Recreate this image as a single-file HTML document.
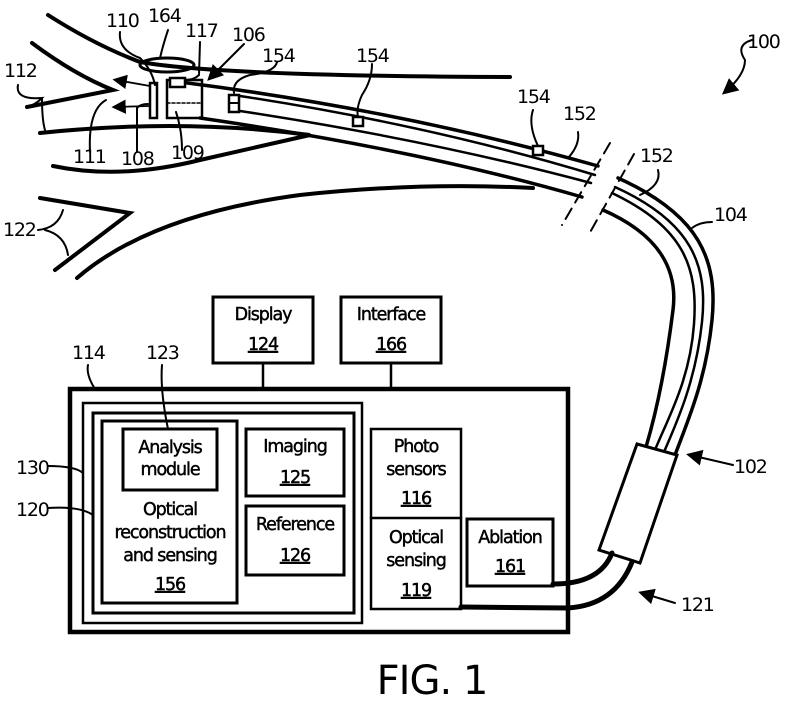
<!DOCTYPE html>
<html><head><meta charset="utf-8"><style>
html,body{margin:0;padding:0;background:#fff;}
svg{display:block;}
text{font-family:"DejaVu Sans","Liberation Sans",sans-serif;fill:#000;}
.l{font-size:19px;letter-spacing:-1.2px;}
.b{font-size:17.5px;letter-spacing:-1.1px;text-anchor:middle;stroke:#000;stroke-width:0.45px;}
.u{text-decoration:underline;}
</style></head><body>
<svg width="787" height="707" viewBox="0 0 787 707" xmlns="http://www.w3.org/2000/svg">
<defs><marker id="ah" markerWidth="8" markerHeight="8" refX="6" refY="4" orient="auto"><path d="M0,0 L8,4 L0,8 z" fill="#000"/></marker></defs>
<g fill="none" stroke="#000" stroke-linecap="round">
<path d="M48,15 Q95,45 140,62 Q220,76 510,77" stroke-width="4"/>
<path d="M32,43 Q75,75 113,90 L27,107" stroke-width="4"/>
<path d="M40,133 Q180,118 310,135 L200,160 Q120,180 53,166" stroke-width="4"/>
<path d="M77,278 Q150,215 300,195 Q420,182 533,188" stroke-width="4"/>
<path d="M40,198 L130,213 L55,270" stroke-width="4"/>
<path d="M180,82 Q400,110 598,166" stroke-width="3.5"/>
<path d="M240,96 Q430,125 595,175" stroke-width="2.5"/>
<path d="M240,111 Q430,140 591,183" stroke-width="2.5"/>
<path d="M200,118 Q420,150 582,197" stroke-width="3.5"/>
<path d="M610,143 L562,225" stroke-width="2" stroke-dasharray="12,7"/>
<path d="M634,154 L588,236" stroke-width="2" stroke-dasharray="12,7"/>
<path d="M618,178 C700,215 718,260 712,320 S688,420 675,455" stroke-width="3.5"/>
<path d="M615,187 C692,222 708,265 702,322 S678,420 664,452" stroke-width="2.5"/>
<path d="M612,193 C685,228 698,268 694,324 S668,418 655,450" stroke-width="2.5"/>
<path d="M603,210 C660,235 678,270 673,310 S660,400 646,447" stroke-width="3.5"/>
<path d="M637,444 L677,455 L640,563 L599,550 Z" stroke-width="3" fill="#fff" stroke-linejoin="miter"/>
<path d="M553,584 Q600,584 612,553" stroke-width="5"/>
<path d="M461,607 L568,608 Q615,605 632,562" stroke-width="5"/>
<ellipse cx="167" cy="65" rx="27" ry="7" stroke-width="3"/>
<rect x="150" y="83" width="7" height="35" stroke-width="2.5"/>
<rect x="167" y="80" width="35" height="38" stroke-width="2.5"/>
<rect x="170" y="78" width="15" height="9" stroke-width="2.5" fill="#fff"/>
<path d="M167,103 L202,103" stroke-width="1.5" stroke-dasharray="3,2"/>
<path d="M150,86 L116,80" stroke-width="1.8" marker-end="url(#ah)"/>
<path d="M150,106 L115,107" stroke-width="1.8" marker-end="url(#ah)"/>
<rect x="229" y="95" width="10" height="17" stroke-width="2.5"/>
<path d="M229,103 L239,103" stroke-width="2"/>
<rect x="353" y="117" width="10" height="9" stroke-width="2.5" fill="#fff"/>
<rect x="533" y="146" width="10" height="9" stroke-width="2.5" fill="#fff"/>
<path d="M168,30 Q163,45 160,58" stroke-width="2"/>
<path d="M120,32 Q118,50 140,58 Q152,70 155,85" stroke-width="2"/>
<path d="M200,42 L199,75 Q194,80 185,80" stroke-width="2"/>
<path d="M244,44 L210,78" stroke-width="2" marker-end="url(#ah)"/>
<path d="M277,62 Q275,72 250,75 Q232,80 234,93" stroke-width="2"/>
<path d="M372,64 Q372,80 362,95 Q356,108 358,117" stroke-width="2"/>
<path d="M533,110 Q528,125 538,146" stroke-width="2"/>
<path d="M578,132 Q580,145 568,158" stroke-width="2"/>
<path d="M658,170 Q662,185 640,195" stroke-width="2"/>
<path d="M712,222 Q700,222 692,228" stroke-width="2"/>
<path d="M752,40 Q735,45 745,60 Q745,75 725,92" stroke-width="2" marker-end="url(#ah)"/>
<path d="M18,85 Q15,100 42,98 Q35,105 27,107 M42,98 Q42,120 45,130" stroke-width="2"/>
<path d="M90,152 Q88,110 106,100" stroke-width="2"/>
<path d="M137,152 L137,108 Q140,104 148,104" stroke-width="2"/>
<path d="M182,150 Q182,130 176,112" stroke-width="2"/>
<path d="M38,230 Q58,228 63,210 M45,230 Q65,235 68,255" stroke-width="2"/>
<path d="M733,465 L690,455" stroke-width="2" marker-end="url(#ah)"/>
<path d="M675,603 L642,593" stroke-width="2" marker-end="url(#ah)"/>
<path d="M88,365 Q86,375 95,389" stroke-width="2"/>
<path d="M162,365 Q160,390 168,429" stroke-width="2"/>
<path d="M48,466 Q75,466 83,473" stroke-width="2"/>
<path d="M48,508 Q80,506 93,515" stroke-width="2"/>
<rect x="213" y="297" width="100" height="66" stroke-width="3"/>
<rect x="341" y="297" width="100" height="66" stroke-width="3"/>
<path d="M263,363 L263,389 M391,363 L391,389" stroke-width="2.5"/>
<rect x="70" y="389" width="498" height="243" stroke-width="4.5"/>
<rect x="83" y="403" width="279" height="220" stroke-width="2.5"/>
<rect x="93" y="413" width="261" height="200" stroke-width="3"/>
<rect x="102" y="421" width="135" height="182" stroke-width="3"/>
<rect x="123" y="429" width="94" height="61" stroke-width="3"/>
<rect x="246" y="429" width="98" height="67" stroke-width="3"/>
<rect x="246" y="506" width="98" height="69" stroke-width="3"/>
<rect x="371" y="429" width="90" height="180" stroke-width="2.5"/>
<path d="M371,518 L461,518" stroke-width="2.5"/>
<rect x="467" y="519" width="86" height="67" stroke-width="3"/>
</g>
<g class="l">
<text x="148" y="22">164</text><text x="106" y="27">110</text><text x="185" y="37">117</text>
<text x="232" y="41">106</text><text x="262" y="62">154</text><text x="356" y="62">154</text>
<text x="517" y="103">154</text><text x="563" y="120">152</text><text x="640" y="162">152</text>
<text x="714" y="221">104</text><text x="747" y="48">100</text><text x="4" y="77">112</text>
<text x="73" y="163">111</text><text x="121" y="165">108</text><text x="171" y="159">109</text>
<text x="3" y="236">122</text><text x="734" y="473">102</text><text x="681" y="611">121</text>
<text x="72" y="359">114</text><text x="146" y="359">123</text>
<text x="16" y="474">130</text><text x="16" y="516">120</text>
</g>
<g class="b">
<text x="263" y="320">Display</text><text x="263" y="350" class="u">124</text>
<text x="391" y="320">Interface</text><text x="391" y="350" class="u">166</text>
<text x="170" y="453">Analysis</text><text x="170" y="475">module</text>
<text x="170" y="515">Optical</text><text x="170" y="538">reconstruction</text><text x="170" y="561">and sensing</text><text x="170" y="590" class="u">156</text>
<text x="295" y="452">Imaging</text><text x="295" y="483" class="u">125</text>
<text x="295" y="530">Reference</text><text x="295" y="561" class="u">126</text>
<text x="416" y="452">Photo</text><text x="416" y="475">sensors</text><text x="416" y="504" class="u">116</text>
<text x="416" y="543">Optical</text><text x="416" y="566">sensing</text><text x="416" y="596" class="u">119</text>
<text x="510" y="543">Ablation</text><text x="510" y="572" class="u">161</text>
</g>
<text x="432" y="694" style="font-size:40px;text-anchor:middle;letter-spacing:-1px;">FIG. 1</text>
</svg>
</body></html>
